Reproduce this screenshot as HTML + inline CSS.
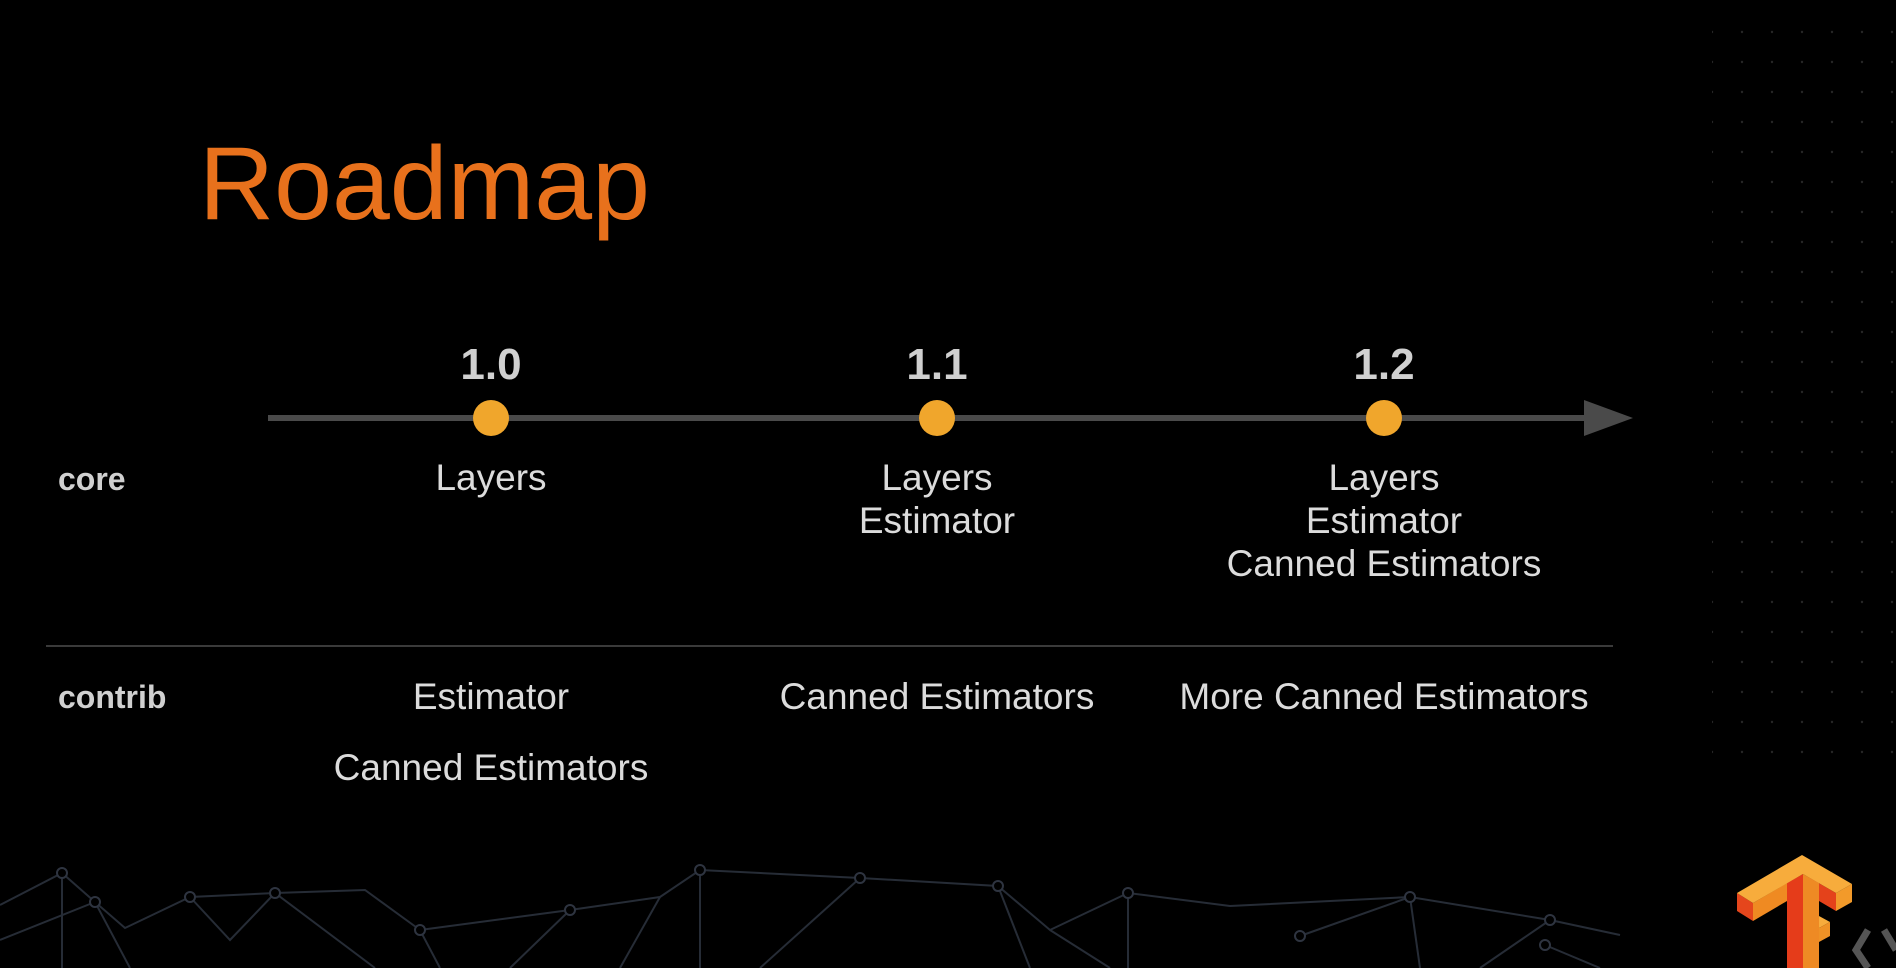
<!DOCTYPE html>
<html><head><meta charset="utf-8"><style>
html,body{margin:0;padding:0;background:#000;}
body{width:1896px;height:968px;position:relative;overflow:hidden;font-family:"Liberation Sans",Arial,sans-serif;}
.t{position:absolute;white-space:nowrap;color:#dcdcdc;font-size:37px;transform:translateX(-50%);text-align:center;line-height:43px;}
.lab{position:absolute;color:#d0d0d0;font-weight:bold;font-size:32px;}
.v{position:absolute;color:#d0d0d0;font-weight:bold;font-size:44px;transform:translateX(-50%);}
</style></head><body>
<svg width="1896" height="968" style="position:absolute;left:0;top:0">
<defs><pattern id="dots" width="30" height="30" patternUnits="userSpaceOnUse"><circle cx="2" cy="2" r="1.2" fill="#262626"/></pattern></defs>
<rect x="1712" y="20" width="184" height="760" fill="url(#dots)"/>
<g stroke="#262c36" stroke-width="2" fill="none">
<polyline points="0,905 62,873 95,902 125,928 190,897 275,893 365,890 420,930 440,968"/>
<polyline points="62,873 62,968"/>
<polyline points="0,940 95,902 130,968"/>
<polyline points="190,897 230,940 275,893 375,968"/>
<polyline points="420,930 570,910 660,897 700,870 860,878 998,886 1050,930 1128,893 1230,906 1410,897 1550,920 1620,935"/>
<polyline points="700,870 700,968"/>
<polyline points="660,897 620,968"/>
<polyline points="998,886 1030,968"/>
<polyline points="1050,930 1110,968"/>
<polyline points="1128,893 1128,968"/>
<polyline points="1410,897 1420,968"/>
<polyline points="1300,936 1410,897"/>
<polyline points="1550,920 1480,968"/>
<polyline points="1545,945 1600,968"/>
<polyline points="860,878 760,968"/>
<polyline points="570,910 510,968"/>
</g>
<g fill="#000" stroke="#2e3440" stroke-width="2">
<circle cx="62" cy="873" r="5"/><circle cx="95" cy="902" r="5"/><circle cx="190" cy="897" r="5"/><circle cx="275" cy="893" r="5"/><circle cx="420" cy="930" r="5"/><circle cx="570" cy="910" r="5"/><circle cx="700" cy="870" r="5"/><circle cx="860" cy="878" r="5"/><circle cx="998" cy="886" r="5"/><circle cx="1128" cy="893" r="5"/><circle cx="1410" cy="897" r="5"/><circle cx="1550" cy="920" r="5"/><circle cx="1545" cy="945" r="5"/><circle cx="1300" cy="936" r="5"/>
</g>
<line x1="268" y1="418" x2="1590" y2="418" stroke="#4a4a4a" stroke-width="6"/>
<polygon points="1584,400 1633,418 1584,436" fill="#4a4a4a"/>
<circle cx="491" cy="418" r="18" fill="#f0a62c"/>
<circle cx="937" cy="418" r="18" fill="#f0a62c"/>
<circle cx="1384" cy="418" r="18" fill="#f0a62c"/>
<line x1="46" y1="646" x2="1613" y2="646" stroke="#3a3a3a" stroke-width="2"/>
<!-- TF logo -->
<g>
<!-- left arm front face -->
<polygon points="1737,893 1753,903 1753,921 1737,911" fill="#e5461c"/>
<!-- left arm lower side -->
<polygon points="1753,903 1787,883 1787,901 1753,921" fill="#ef8a22"/>
<!-- stem -->
<polygon points="1787,883 1803,874 1803,968 1787,968" fill="#e53c1a"/>
<polygon points="1803,874 1819,883 1819,968 1803,968" fill="#ee8a24"/>
<!-- right arm lower side -->
<polygon points="1803,874 1836,893 1836,911 1819,901 1819,883" fill="#e4421b"/>
<!-- right arm end face -->
<polygon points="1836,893 1852,884 1852,902 1836,911" fill="#f29a2a"/>
<!-- top -->
<polygon points="1737,893 1802,855 1852,884 1836,893 1803,874 1753,903" fill="#f7ac3c"/>
<!-- middle bar -->
<polygon points="1819,916 1830,922 1819,928" fill="#f7ac3c"/>
<polygon points="1819,928 1830,922 1830,936 1819,942" fill="#ef9226"/>
</g>
<g stroke="#555" stroke-width="7" fill="none"><polyline points="1868,930 1856,950 1868,968"/><polyline points="1884,930 1896,950"/></g>
</svg>
<div style="position:absolute;left:199px;top:124px;font-size:104px;color:#e8711c;line-height:120px;">Roadmap</div>
<div class="v" style="left:491px;top:340px;">1.0</div>
<div class="v" style="left:937px;top:340px;">1.1</div>
<div class="v" style="left:1384px;top:340px;">1.2</div>
<div class="lab" style="left:58px;top:461px;">core</div>
<div class="lab" style="left:58px;top:679px;">contrib</div>
<div class="t" style="left:491px;top:456px;">Layers</div>
<div class="t" style="left:937px;top:456px;">Layers<br>Estimator</div>
<div class="t" style="left:1384px;top:456px;">Layers<br>Estimator<br>Canned Estimators</div>
<div class="t" style="left:491px;top:675px;">Estimator</div>
<div class="t" style="left:491px;top:746px;">Canned Estimators</div>
<div class="t" style="left:937px;top:675px;">Canned Estimators</div>
<div class="t" style="left:1384px;top:675px;">More Canned Estimators</div>
</body></html>
